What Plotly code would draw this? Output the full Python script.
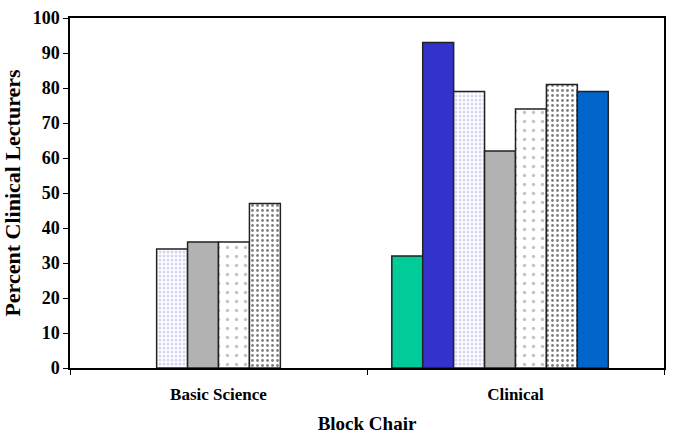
import plotly.graph_objects as go

categories = ["Basic Science", "Clinical"]
series_names = ["Series 1", "Series 2", "Series 3", "Series 4",
                "Series 5", "Series 6", "Series 7", "Series 8"]
series_values = [
    [None, 32],
    [None, 93],
    [34, 79],
    [36, 62],
    [36, 74],
    [47, 81],
    [None, 79],
    [None, None],
]
y_ticks = [0, 10, 20, 30, 40, 50, 60, 70, 80, 90, 100]

styles = [
    dict(color="#00CC99"),
    dict(color="#3333CC"),
    dict(color="white", pattern=dict(shape=".", fgcolor="#a9aee8", bgcolor="white", size=4, solidity=0.45)),
    dict(color="#B2B2B2"),
    dict(color="white", pattern=dict(shape=".", fgcolor="#8a8a8a", bgcolor="white", size=9, solidity=0.12)),
    dict(color="white", pattern=dict(shape=".", fgcolor="#000000", bgcolor="white", size=5, solidity=0.25)),
    dict(color="#0066CC"),
    dict(color="#999999"),
]

font_family = "Liberation Serif"

fig = go.Figure()
for name, vals, st in zip(series_names, series_values, styles):
    marker = dict(st)
    marker["line"] = dict(color="#222222", width=1.5)
    fig.add_trace(go.Bar(x=categories, y=vals, name=name, marker=marker))

fig.update_layout(
    width=674, height=444,
    margin=dict(l=70, r=8, t=13, b=76),
    barmode="group",
    bargap=0.167,
    bargroupgap=0,
    showlegend=False,
    plot_bgcolor="white",
    paper_bgcolor="white",
    font=dict(family=font_family, color="black", weight=700),
)
fig.update_xaxes(
    showline=True, linecolor="black", linewidth=1.5, mirror=True,
    ticks="outside", ticklen=5, tickcolor="black", tickwidth=1.2,
    tickson="boundaries", showgrid=False,
    tickvals=categories,
    ticktext=["<b>%s</b>" % c for c in categories],
    ticklabelstandoff=10,
    tickfont=dict(family=font_family, size=17, weight=700),
    title=dict(text="<b>Block Chair</b>", font=dict(family=font_family, size=19, weight=700), standoff=14),
)
fig.update_yaxes(
    range=[0, 100], tickvals=y_ticks,
    ticktext=["<b>%d</b>" % v for v in y_ticks],
    showline=True, linecolor="black", linewidth=1.5, mirror=True,
    ticks="outside", ticklen=5, tickcolor="black", tickwidth=1.2,
    showgrid=False, zeroline=False,
    tickfont=dict(family=font_family, size=18, weight=700),
    title=dict(text="<b>Percent Clinical Lecturers</b>", font=dict(family=font_family, size=22, weight=700), standoff=8),
)

fig.write_html("out.html")
